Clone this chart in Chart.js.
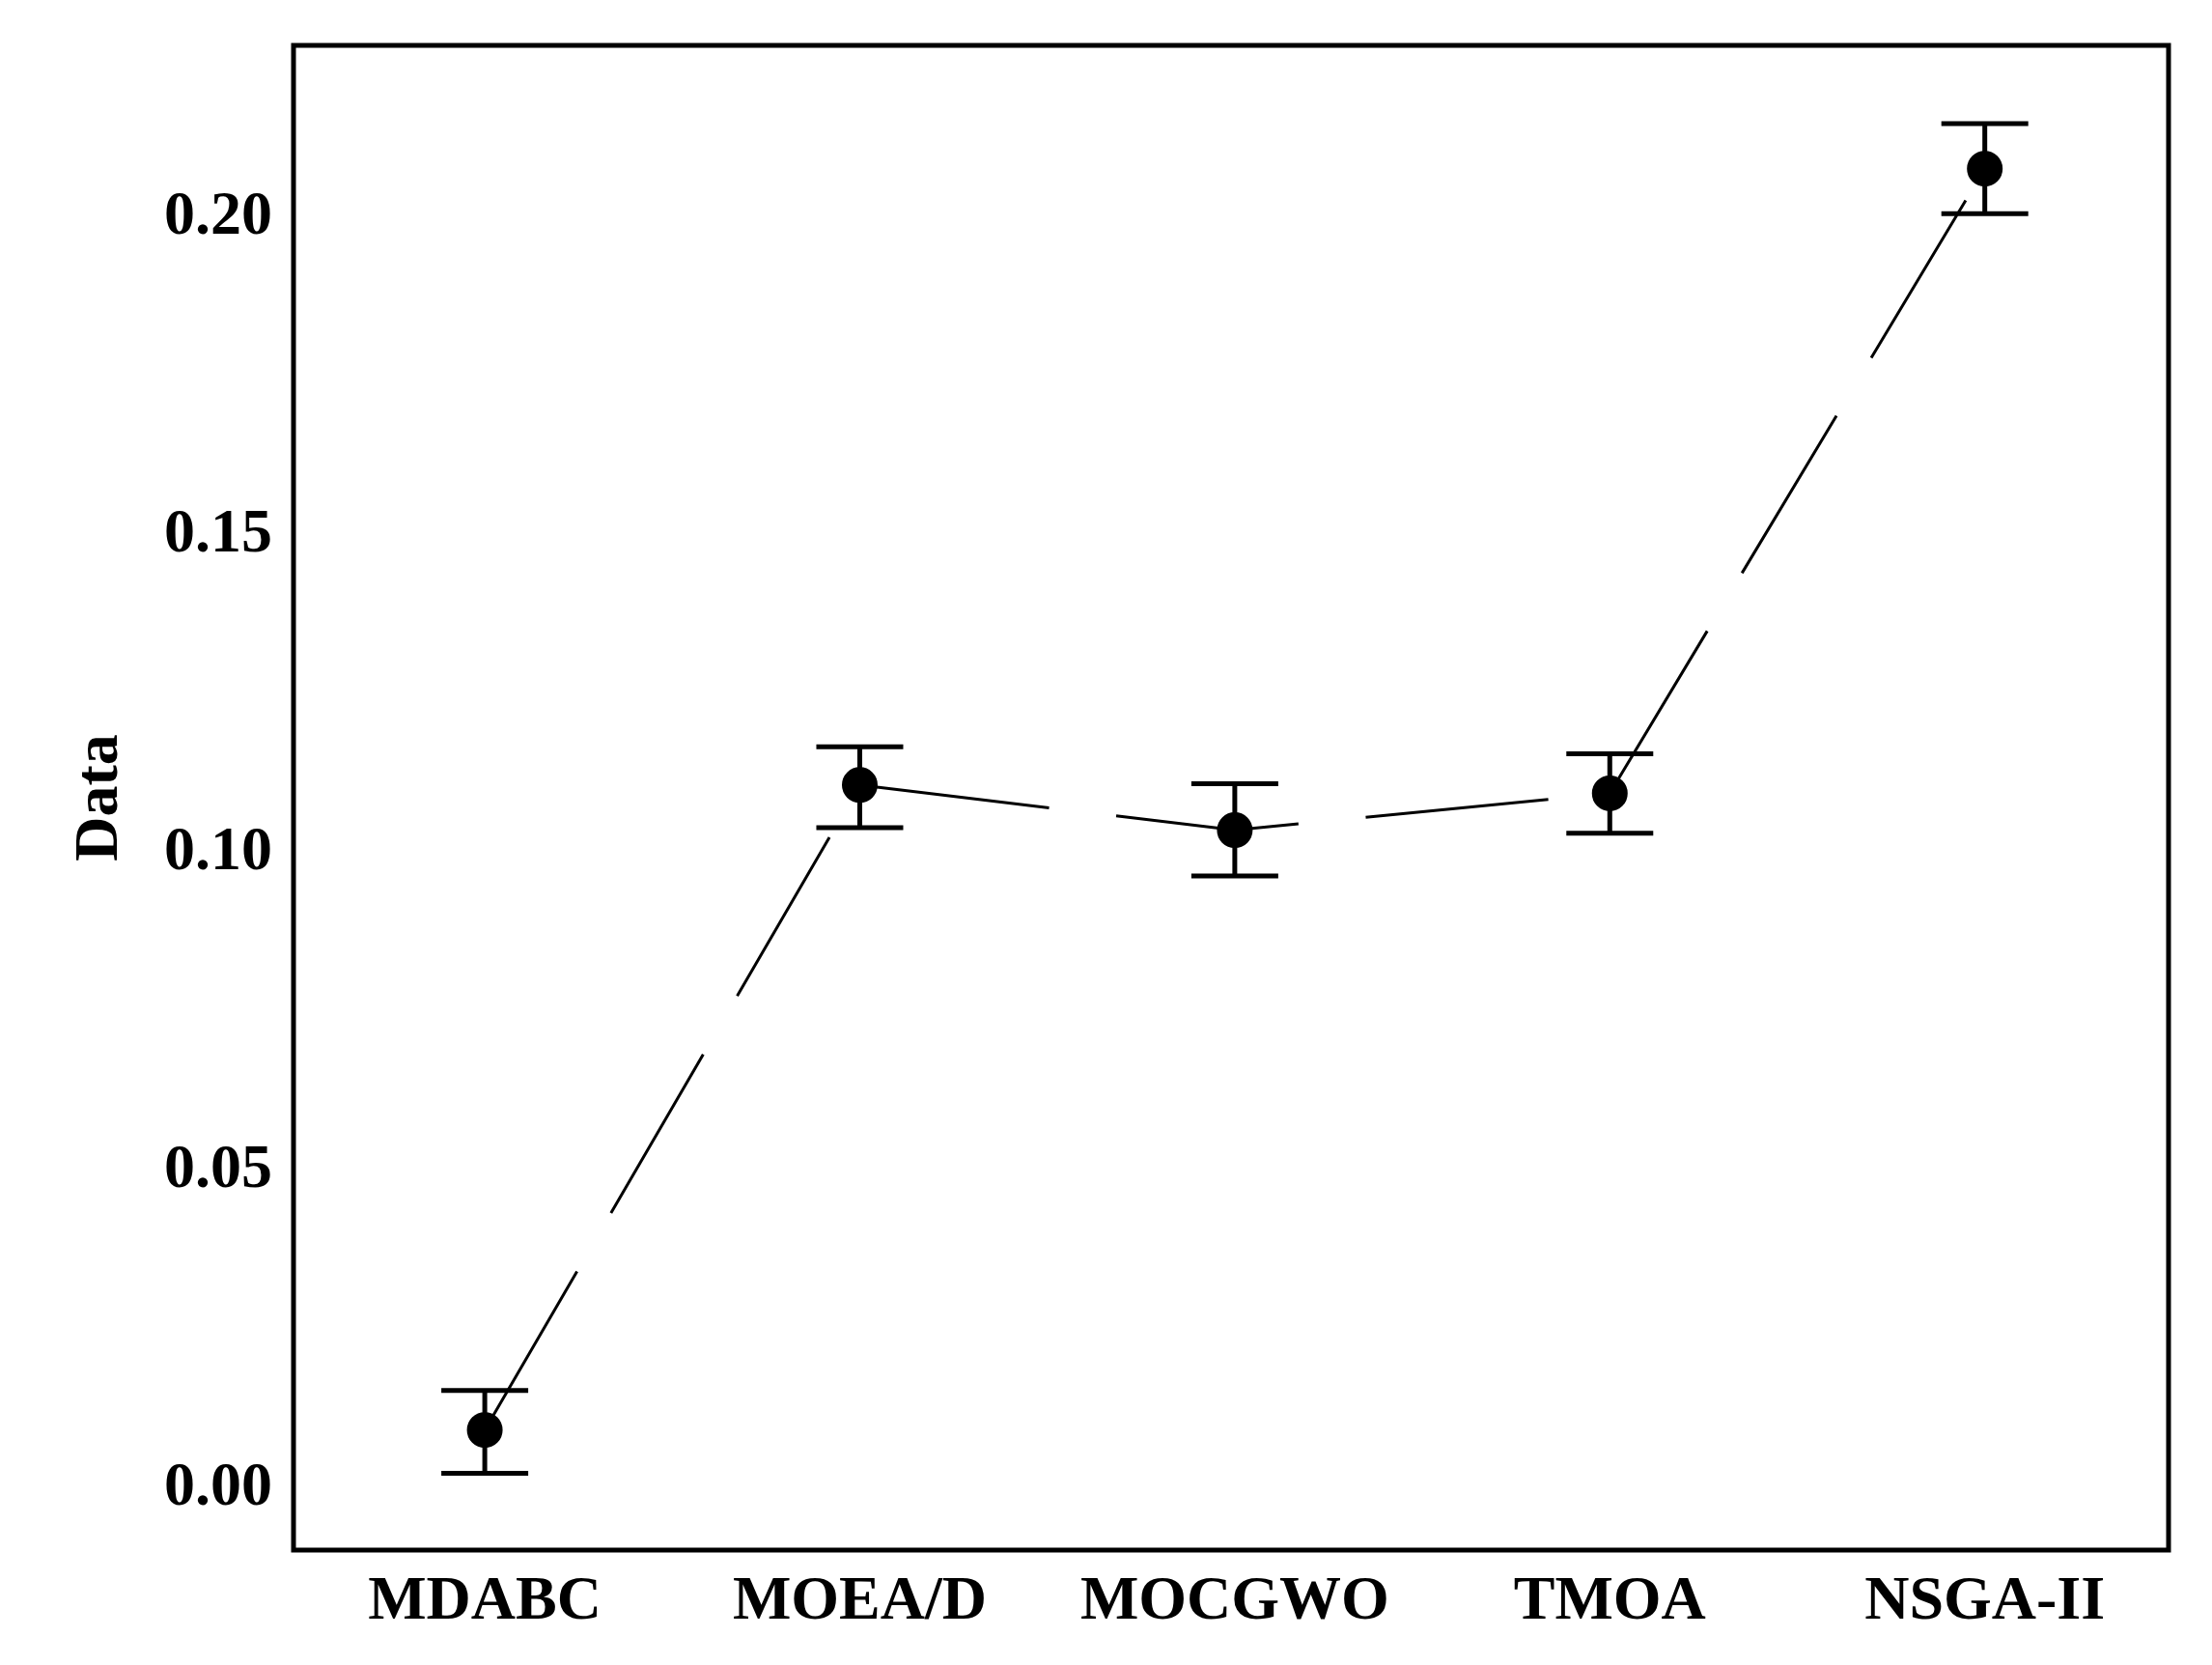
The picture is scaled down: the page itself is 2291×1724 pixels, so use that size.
<!DOCTYPE html>
<html><head><meta charset="utf-8">
<script src="https://cdn.jsdelivr.net/npm/chart.js@4/dist/chart.umd.min.js"></script>
<style>html,body{margin:0;padding:0;background:#fff}#w{width:2291px;height:1724px}</style>
</head><body><div id="w"><canvas id="c"></canvas></div>
<script>
const categories = ["MDABC","MOEA/D","MOCGWO","TMOA","NSGA-II"];
const means = [0.0093,0.1108,0.1037,0.1095,0.2078];
const upper = [0.0155,0.1168,0.1110,0.1157,0.2149];
const lower = [0.0025,0.1041,0.0965,0.1032,0.2007];
const yTicks = [0.00,0.05,0.10,0.15,0.20];

const font = {family:"'Liberation Serif', serif", weight:'bold', size:64};
const errPlugin = {
  id:'err',
  afterDatasetsDraw(chart){
    const {ctx, scales:{x,y}} = chart;
    ctx.save(); ctx.strokeStyle='#000'; ctx.lineWidth=5;
    categories.forEach((c,i)=>{
      const px=x.getPixelForValue(i), pu=y.getPixelForValue(upper[i]), pl=y.getPixelForValue(lower[i]);
      ctx.beginPath();
      ctx.moveTo(px,pu);ctx.lineTo(px,pl);
      ctx.moveTo(px-45,pu);ctx.lineTo(px+45,pu);
      ctx.moveTo(px-45,pl);ctx.lineTo(px+45,pl);
      ctx.stroke();
    });
    const a=chart.chartArea; ctx.lineWidth=5; ctx.strokeRect(a.left,a.top,a.right-a.left,a.bottom-a.top);
    ctx.restore();
  }
};
new Chart(document.getElementById('c'),{
  type:'scatter',
  data:{datasets:[{data:means.map((v,i)=>({x:i,y:v})),showLine:true,borderColor:'#000',borderWidth:3,
    borderDash:[190,70],backgroundColor:'#000',pointRadius:17,pointBackgroundColor:'#000'}]},
  options:{responsive:true,maintainAspectRatio:false,animation:false,
    layout:{padding:{top:47,right:45,left:62,bottom:0}},
    plugins:{legend:{display:false},tooltip:{enabled:false}},
    scales:{
      x:{type:'linear',min:-0.51,max:4.49,afterBuildTicks(s){s.ticks=categories.map((c,i)=>({value:i}));},
        afterFit(s){s.height=119;},
        grid:{display:false,drawTicks:true,tickLength:14,tickWidth:4,tickColor:'#000'},
        border:{display:false},
        ticks:{color:'#000',font,padding:2,callback:(v)=>categories[v]??''}},
      y:{min:-0.0096,max:0.2272,afterBuildTicks(s){s.ticks=yTicks.map(v=>({value:v}));},
        afterFit(s){s.width=242;},
        grid:{display:false,drawTicks:true,tickLength:14,tickWidth:4,tickColor:'#000'},
        border:{display:false},
        title:{display:true,text:'Data',color:'#000',font,padding:{bottom:20}},
        ticks:{color:'#000',font,padding:8,callback:(v)=>v.toFixed(2)}}
    }},
  plugins:[errPlugin]
});
</script></body></html>
